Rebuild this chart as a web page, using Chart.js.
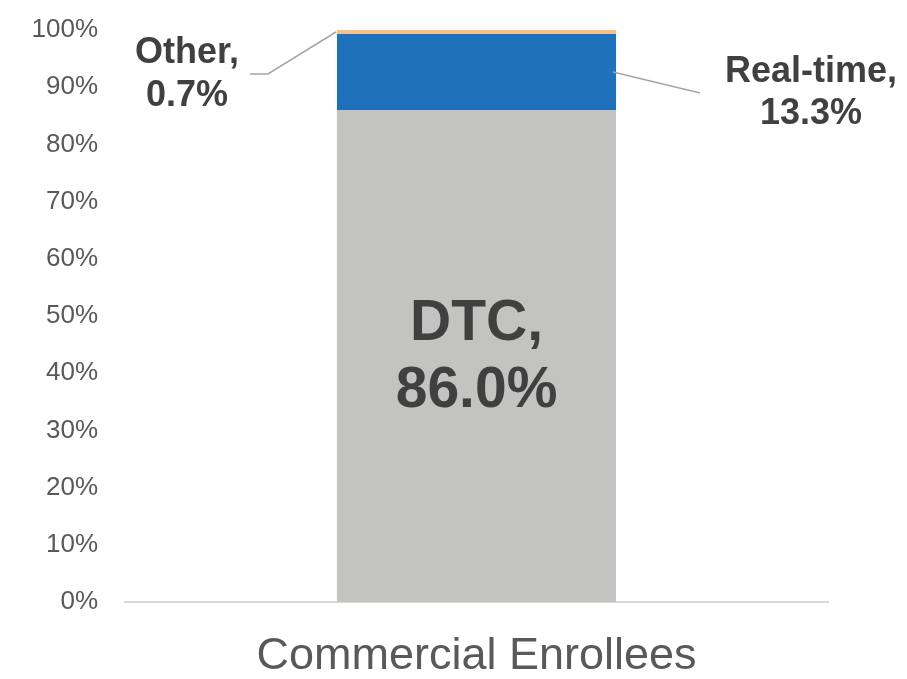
<!DOCTYPE html>
<html>
<head>
<meta charset="utf-8">
<script src="https://cdn.jsdelivr.net/npm/chart.js@4.4.1/dist/chart.umd.min.js"></script>
<style>
  html, body { margin: 0; padding: 0; background: #ffffff; }
  #wrap { width: 907px; height: 679px; position: relative; }
</style>
</head>
<body>
<div id="wrap"><canvas id="c" width="907" height="679"></canvas></div>
<script>
// Enrollment share by channel
const categories = ['Commercial Enrollees'];
const seriesNames = ['DTC', 'Real-time', 'Other'];
const dtcValues = [86.0];
const realTimeValues = [13.3];
const otherValues = [0.7];
const yTicks = [0, 10, 20, 30, 40, 50, 60, 70, 80, 90, 100];

const FONT = '"Liberation Sans", Arial, sans-serif';
const LABEL_COLOR = '#404040';
const LEADER_COLOR = '#a6a6a6';

function pct(v) { return v.toFixed(1) + '%'; }

// Draws the value labels: DTC inside the bar, the two small segments outside with leader lines
const segmentLabels = {
  id: 'segmentLabels',
  afterDatasetsDraw(chart) {
    const ctx = chart.ctx;
    const dtc = chart.getDatasetMeta(0).data[0];
    const rt = chart.getDatasetMeta(1).data[0];
    const oth = chart.getDatasetMeta(2).data[0];
    const half = dtc.width / 2;
    const left = dtc.x - half;
    const right = dtc.x + half;

    ctx.save();
    ctx.fillStyle = LABEL_COLOR;
    ctx.textAlign = 'center';
    ctx.textBaseline = 'middle';

    // DTC, inside its segment
    const dtcMid = (dtc.y + dtc.base) / 2;
    ctx.font = 'bold 57px ' + FONT;
    ctx.fillText(seriesNames[0] + ',', dtc.x, dtcMid - 32);
    ctx.fillText(pct(dtcValues[0]), dtc.x, dtcMid + 35);

    // leader lines
    ctx.strokeStyle = LEADER_COLOR;
    ctx.lineWidth = 1.5;
    const othMid = (oth.y + oth.base) / 2;
    const othElbowY = othMid + 42;
    ctx.beginPath();
    ctx.moveTo(left - 1, othMid);
    ctx.lineTo(left - 69, othElbowY);
    ctx.lineTo(left - 87, othElbowY);
    ctx.stroke();

    const rtMid = (rt.y + rt.base) / 2;
    const rtEndY = rtMid + 21;
    ctx.beginPath();
    ctx.moveTo(right - 3, rtMid);
    ctx.lineTo(right + 84, rtEndY);
    ctx.stroke();

    // Other label
    ctx.font = 'bold 36px ' + FONT;
    const othX = left - 150;
    ctx.fillText(seriesNames[2] + ',', othX, othElbowY - 21);
    ctx.fillText(pct(otherValues[0]), othX, othElbowY + 22);

    // Real-time label
    const rtX = right + 195;
    ctx.fillText(seriesNames[1] + ',', rtX, rtEndY - 21);
    ctx.fillText(pct(realTimeValues[0]), rtX, rtEndY + 21);
    ctx.restore();
  }
};

new Chart(document.getElementById('c'), {
  type: 'bar',
  data: {
    labels: categories,
    datasets: [
      { label: seriesNames[0], data: dtcValues, backgroundColor: '#c3c4c1' },
      { label: seriesNames[1], data: realTimeValues, backgroundColor: '#1f71bb' },
      { label: seriesNames[2], data: otherValues, backgroundColor: '#f9c08c' }
    ]
  },
  options: {
    responsive: false,
    animation: false,
    layout: { padding: { top: 30, right: 79, bottom: 0, left: 0 } },
    datasets: { bar: { barPercentage: 0.397, categoryPercentage: 1.0, borderWidth: 0 } },
    plugins: {
      legend: { display: false },
      tooltip: { enabled: false }
    },
    scales: {
      x: {
        stacked: true,
        grid: { display: false },
        border: { display: true, color: '#d9d9d9', width: 2 },
        ticks: {
          color: '#595959',
          font: { family: FONT, size: 45 },
          padding: 20
        },
        afterFit(scale) { scale.height = 77; }
      },
      y: {
        stacked: true,
        min: 0,
        max: 100,
        grid: { display: false },
        border: { display: false },
        afterBuildTicks(scale) { scale.ticks = yTicks.map(v => ({ value: v })); },
        ticks: {
          color: '#595959',
          font: { family: FONT, size: 26 },
          padding: 19,
          callback: v => v + '%'
        },
        afterFit(scale) {
          scale.width = 125;
          scale.paddingTop = 0;
          scale.paddingBottom = 0;
        }
      }
    }
  },
  plugins: [segmentLabels]
});
</script>
</body>
</html>
